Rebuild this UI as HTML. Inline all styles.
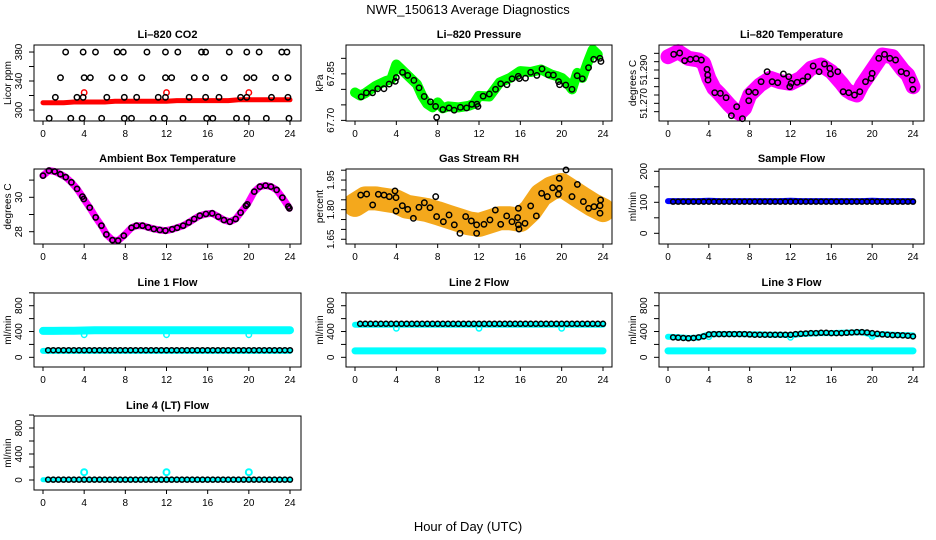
<!DOCTYPE html>
<html><head><meta charset="utf-8"><style>
html,body{margin:0;padding:0;background:#fff;}
svg{display:block;font-family:"Liberation Sans",Arial,sans-serif;}
</style></head><body>
<svg id="chart" width="936" height="540" viewBox="0 0 936 540" xmlns="http://www.w3.org/2000/svg">
<text x="468" y="14" text-anchor="middle" font-size="13">NWR_150613  Average Diagnostics</text>
<text x="468" y="531" text-anchor="middle" font-size="13">Hour of Day (UTC)</text>
</svg>
<script>
// ---------- data ----------
const xTicks = [0,4,8,12,16,20,24];
const H48 = [0.5,1,1.5,2,2.5,3,3.5,4,4.5,5,5.5,6,6.5,7,7.5,8,8.5,9,9.5,10,10.5,11,11.5,12,12.5,13,13.5,14,14.5,15,15.5,16,16.5,17,17.5,18,18.5,19,19.5,20,20.5,21,21.5,22,22.5,23,23.5,24];
const H25 = [0,1,2,3,4,5,6,7,8,9,10,11,12,13,14,15,16,17,18,19,20,21,22,23,24];
const outlierHours = [4,12,20];

// CO2
const co2BandVals = [310,310,310,311,311,311,311,312,312,312,312,312,312,313,313,313,313,313,313,314,314,314,314,314,314];
const co2RedOutliers = [324,324,324];
const co2BlackHours = [2.2,3.9,5.1,7.2,7.8,10.1,11.9,13.1,15.4,15.8,18.1,19.8,21.0,23.2,23.7,
 1.7,4.0,4.6,6.7,7.9,9.6,11.9,12.5,14.7,15.8,17.6,19.8,20.5,22.6,23.8,
 1.2,3.3,3.9,6.2,7.9,9.1,11.2,11.9,14.2,15.8,17.1,19.2,19.8,22.2,23.8,
 0.6,2.7,3.8,5.7,7.9,8.6,10.7,11.8,13.6,15.9,16.5,18.8,19.8,21.7,23.9];
const co2BlackVals = [380,380,380,380,380,380,380,380,380,380,380,380,380,380,380,
 344.6,344.6,344.6,344.6,344.6,344.6,344.6,344.6,344.6,344.6,344.6,344.6,344.6,344.6,344.6,
 317.5,317.5,317.5,317.5,317.5,317.5,317.5,317.5,317.5,317.5,317.5,317.5,317.5,317.5,317.5,
 288.5,288.5,288.5,288.5,288.5,288.5,288.5,288.5,288.5,288.5,288.5,288.5,288.5,288.5,288.5];

// Pressure
const presHours = [0,0.5,1,2,3,3.5,4,4.5,5,6,6.5,7,7.5,8,8.5,9,10,11,11.5,12,13,14,15,16,17,18,19,19.5,20,20.5,21,21.5,22,22.5,23,23.5];
const presBandVals = [67.790,67.780,67.788,67.811,67.827,67.832,67.880,67.864,67.848,67.816,67.779,67.753,67.742,67.758,67.739,67.745,67.742,67.747,67.753,67.779,67.777,67.822,67.837,67.859,67.856,67.864,67.848,67.843,67.837,67.822,67.800,67.853,67.837,67.885,67.928,67.912];
const presBlackHours = [0.6,1.1,1.7,2.2,2.8,3.3,3.9,4.0,4.6,5.1,5.7,6.2,6.7,7.3,7.8,7.9,8.5,9.1,9.6,10.2,10.8,11.3,11.8,11.9,12.4,13.0,13.6,14.1,14.7,15.2,15.8,15.9,16.5,17.0,17.6,18.1,18.7,19.2,19.7,19.8,20.4,21.0,21.5,22.0,22.6,23.1,23.7,23.8];
const presBlackVals = [67.776,67.789,67.789,67.802,67.802,67.817,67.826,67.838,67.855,67.845,67.829,67.805,67.777,67.760,67.745,67.710,67.735,67.740,67.733,67.742,67.740,67.752,67.752,67.745,67.778,67.785,67.800,67.818,67.815,67.834,67.842,67.835,67.836,67.855,67.845,67.866,67.847,67.846,67.825,67.815,67.814,67.800,67.844,67.834,67.870,67.897,67.900,67.890];

// Temperature
const tempHours = [0,1,2,3,3.5,4,4.5,5,6,6.5,7,7.5,8,9,10,11,12,13,14,15,16,17,17.5,18,18.5,19,20,21,22,23,23.5,24];
const tempBandVals = [51.298,51.301,51.297,51.296,51.294,51.285,51.279,51.276,51.269,51.266,51.264,51.267,51.275,51.281,51.285,51.283,51.282,51.285,51.291,51.293,51.289,51.282,51.278,51.276,51.275,51.281,51.290,51.299,51.298,51.290,51.287,51.280];
const tempBlackHours = [0.56,1.14,1.63,2.19,2.75,3.27,3.82,3.89,3.92,4.58,5.13,5.69,6.21,6.73,7.29,7.91,7.91,8.56,9.12,9.71,10.2,10.75,11.31,11.83,11.93,12.06,12.65,13.2,13.69,14.22,14.8,15.33,15.85,15.92,16.63,17.16,17.71,18.27,18.79,19.35,19.9,20.0,20.65,21.21,21.73,22.29,22.84,23.37,23.92,23.99];
const tempBlackVals = [51.2994,51.3002,51.2956,51.2964,51.2968,51.2960,51.2904,51.2870,51.2840,51.2764,51.2760,51.2734,51.2626,51.2680,51.2608,51.2770,51.2716,51.2766,51.2830,51.2890,51.2830,51.2824,51.2876,51.2860,51.2800,51.2820,51.2826,51.2834,51.2860,51.2924,51.2890,51.2936,51.2910,51.2876,51.2890,51.2770,51.2764,51.2750,51.2770,51.2830,51.2850,51.2880,51.2970,51.2994,51.2970,51.2960,51.2890,51.2880,51.2840,51.2784];

// Ambient box temperature
const ambHours = [0,0.58,1.14,1.69,2.21,2.76,3.31,3.83,3.96,4.54,5.12,5.68,6.16,6.75,7.3,7.85,8.6,9.08,9.67,10.22,10.77,11.35,11.9,12.55,13.04,13.62,14.17,14.69,15.24,15.83,16.44,17.03,17.58,18.16,18.72,19.2,19.72,19.85,20.53,21.08,21.63,22.15,22.7,23.26,23.84,23.94];
const ambVals = [31.26,31.55,31.50,31.34,31.17,30.87,30.49,30.04,29.90,29.40,28.83,28.35,27.84,27.51,27.48,27.77,28.23,28.35,28.35,28.25,28.16,28.10,28.06,28.14,28.23,28.35,28.54,28.74,28.93,29.03,29.07,28.87,28.68,28.58,28.74,29.11,29.51,29.59,30.33,30.62,30.68,30.62,30.43,29.98,29.46,29.36];

// Gas stream RH
const rhBandVals = [1.824,1.857,1.857,1.849,1.841,1.815,1.807,1.798,1.782,1.765,1.748,1.731,1.723,1.739,1.756,1.756,1.748,1.798,1.874,1.908,1.925,1.891,1.857,1.824,1.798];
const rhBlackHours = [0.55,1.13,1.71,2.26,2.81,3.32,3.87,3.97,3.97,4.58,5.1,5.65,6.19,6.71,7.26,7.81,7.9,8.55,9.1,9.61,10.16,10.71,11.26,11.77,11.77,12.48,13.06,13.58,14.1,14.68,15.19,15.74,15.81,15.81,15.87,16.45,17.0,17.55,18.06,18.61,19.13,19.68,19.77,19.77,20.42,21.0,21.52,22.1,22.61,23.13,23.71,23.71,23.77];
const rhBlackVals = [1.874,1.879,1.824,1.878,1.874,1.866,1.895,1.861,1.793,1.820,1.802,1.756,1.812,1.835,1.810,1.866,1.765,1.739,1.773,1.723,1.680,1.765,1.743,1.680,1.723,1.726,1.748,1.798,1.726,1.768,1.739,1.760,1.807,1.723,1.702,1.731,1.819,1.768,1.883,1.866,1.911,1.878,1.908,1.959,2.001,1.866,1.928,1.841,1.807,1.815,1.820,1.782,1.849];

// Sample flow
const sampleBandVals = [104,104,104,104,105,104,104,104,104,104,104,104,105,104,104,104,104,104,104,104,105,104,104,104,104];
const sampleBlackVals = [102,102,102,102,102,102,102,102,102,102,102,102,102,102,102,102,102,102,102,102,102,102,102,102,102,102,102,102,102,102,102,102,102,102,102,102,102,102,102,102,102,102,102,102,102,102,102,102];

// Line flows
const line1CyanHigh = [410,410,412,412,415,420,420,420,420,420,420,420,420,420,420,420,420,420,420,420,420,420,420,420,420];
const line1CyanLow = [100,100,100,100,100,100,100,100,100,100,100,100,100,100,100,100,100,100,100,100,100,100,100,100,100];
const line1CyanOut = [350,350,350];
const line1Black = [110,110,110,110,110,110,110,110,110,110,110,110,110,110,110,110,110,110,110,110,110,110,110,110,110,110,110,110,110,110,110,110,110,110,110,110,110,110,110,110,110,110,110,110,110,110,110,110];

const line2CyanHigh = [505,505,505,505,505,505,505,505,505,505,505,505,505,505,505,505,505,505,505,505,505,505,505,505,505];
const line2CyanLow = [100,100,100,100,100,100,100,100,100,100,100,100,100,100,100,100,100,100,100,100,100,100,100,100,100];
const line2CyanOut = [450,450,450];
const line2Black = [520,520,520,520,520,520,520,520,520,520,520,520,520,520,520,520,520,520,520,520,520,520,520,520,520,520,520,520,520,520,520,520,520,520,520,520,520,520,520,520,520,520,520,520,520,520,520,520];

const line3CyanHigh = [320,310,300,305,355,360,360,360,355,355,350,350,345,360,370,375,375,380,385,390,350,360,350,345,340];
const line3CyanLow = [100,100,100,100,100,100,100,100,100,100,100,100,100,100,100,100,100,100,100,100,100,100,100,100,100];
const line3CyanOut = [320,310,325];
const line3Black = [310,305,300,295,300,310,325,355,360,360,360,360,360,360,360,355,350,350,350,350,350,350,350,350,360,365,370,375,375,380,380,375,375,375,380,385,390,390,385,375,365,355,350,345,345,340,335,325];

const line4Cyan = [5,5,5,5,5,5,5,5,5,5,5,5,5,5,5,5,5,5,5,5,5,5,5,5,5];
const line4CyanOut = [120,120,120];
const line4Black = [5,5,5,5,5,5,5,5,5,5,5,5,5,5,5,5,5,5,5,5,5,5,5,5,5,5,5,5,5,5,5,5,5,5,5,5,5,5,5,5,5,5,5,5,5,5,5,5];

// ---------- drawing ----------
const NS = 'http://www.w3.org/2000/svg';
const svg = document.getElementById('chart');
const COLS = [{L:34,R:301,x0:43,x24:290},{L:346,R:612,x0:355,x24:603},{L:659,R:924,x0:668,x24:913}];
const ROWS = [{T:45,B:121},{T:169,B:244},{T:293,B:367},{T:416,B:490}];

function el(tag, attrs, parent) {
  const e = document.createElementNS(NS, tag);
  for (const k in attrs) e.setAttribute(k, attrs[k]);
  (parent || svg).appendChild(e);
  return e;
}

function panel(c, r, slug, title, ylab, ylim, yticks, ylabels) {
  const C = COLS[c], Rw = ROWS[r];
  const g = el('g', {});
  
  
  const xs = h => C.x0 + (C.x24 - C.x0) * h / 24;
  const ys = v => Rw.B - (v - ylim[0]) / (ylim[1] - ylim[0]) * (Rw.B - Rw.T);
  const t = el('text', {x:(C.L + C.R) / 2, y:Rw.T - 7, 'text-anchor':'middle', 'font-size':11, 'font-weight':'bold'}, g);
  t.textContent = title;
  
  
  const yl = el('text', {transform:'translate(' + (C.L - 23) + ',' + ((Rw.T + Rw.B) / 2) + ') rotate(-90)', 'text-anchor':'middle', 'font-size':10}, g);
  yl.textContent = ylab;
  
  
  const xa = el('g', {}, g);
  
  
  xTicks.forEach(h => {
    el('line', {x1:xs(h), x2:xs(h), y1:Rw.B, y2:Rw.B + 4, stroke:'#000', 'stroke-width':1}, xa);
    const tl = el('text', {x:xs(h), y:Rw.B + 16, 'text-anchor':'middle', 'font-size':10}, xa);
    tl.textContent = h;
    
    
  });
  const ya = el('g', {}, g);
  
  
  yticks.forEach(v => {
    const y = ys(v);
    el('line', {x1:C.L - 5, x2:C.L, y1:y, y2:y, stroke:'#000', 'stroke-width':1}, ya);
  });
  ylabels.forEach(lb => {
    const y = ys(parseFloat(lb));
    const tl = el('text', {transform:'translate(' + (C.L - 12) + ',' + y + ') rotate(-90)', 'text-anchor':'middle', 'font-size':10}, ya);
    tl.textContent = lb;
    
    
  });
  const clipId = 'clip-' + slug;
  const cp = el('clipPath', {id:clipId}, g);
  el('rect', {x:C.L, y:Rw.T - 4, width:C.R - C.L, height:Rw.B - Rw.T + 8}, cp);
  const plot = el('g', {'clip-path':'url(#' + clipId + ')'}, g);
  
  
  const box = el('rect', {x:C.L, y:Rw.T, width:C.R - C.L, height:Rw.B - Rw.T, fill:'none', stroke:'#000', 'stroke-width':1}, g);
  
  
  return {plot, xs, ys};
}

function band(p, name, hours, vals, color, w) {
  const pts = hours.map((h, i) => p.xs(h).toFixed(1) + ',' + p.ys(vals[i]).toFixed(1)).join(' ');
  const pl = el('polyline', {points:pts, fill:'none', stroke:color, 'stroke-width':w, 'stroke-linejoin':'round', 'stroke-linecap':'round'}, p.plot);
  
  
}

function circles(p, name, hours, vals, color, r, sw) {
  const g = el('g', {}, p.plot);
  
  
  hours.forEach((h, i) => {
    const c = el('circle', {cx:p.xs(h), cy:p.ys(vals[i]), r:r || 2.7, fill:'none', stroke:color, 'stroke-width':sw || 1.5}, g);
    
    
  });
}

// CO2
let p = panel(0, 0, 'co2', 'Li\u2013820 CO2', 'Licor ppm', [284.8, 389.7], [300,320,340,360,380], ['300','340','380']);
band(p, 'co2-red-band', H25, co2BandVals, '#ff0000', 5);
circles(p, 'co2-red-outliers', outlierHours, co2RedOutliers, '#ff0000');
circles(p, 'co2-black-series', co2BlackHours, co2BlackVals, '#000');

// Pressure
p = panel(1, 0, 'pressure', 'Li\u2013820 Pressure', 'kPa', [67.698, 67.943], [67.70,67.75,67.80,67.85,67.90], ['67.70','67.85']);
band(p, 'pressure-green-band', presHours, presBandVals, '#00ff00', 10);
circles(p, 'pressure-black-series', presBlackHours, presBlackVals, '#000');

// Temperature
p = panel(2, 0, 'temperature', 'Li\u2013820 Temperature', 'degrees C', [51.2594, 51.305], [51.265,51.270,51.275,51.280,51.285,51.290,51.295,51.300], ['51.270','51.290']);
band(p, 'temperature-magenta-band', tempHours, tempBandVals, '#ff00ff', 15);
circles(p, 'temperature-black-series', tempBlackHours, tempBlackVals, '#000');

// Ambient
p = panel(0, 1, 'ambient', 'Ambient Box Temperature', 'degrees C', [27.285, 31.645], [28,29,30,31], ['28','30']);
band(p, 'ambient-magenta-band', ambHours, ambVals, '#ff00ff', 7);
circles(p, 'ambient-black-series', ambHours, ambVals, '#000', 2.6, 1.6);

// Gas RH
p = panel(1, 1, 'gas-rh', 'Gas Stream RH', 'percent', [1.626, 2.006], [1.65,1.70,1.75,1.80,1.85,1.90,1.95,2.00], ['1.65','1.80','1.95']);
band(p, 'gas-rh-orange-band', H25, rhBandVals, '#f4a81c', 24);
circles(p, 'gas-rh-black-series', rhBlackHours, rhBlackVals, '#000');

// Sample flow
p = panel(2, 1, 'sample-flow', 'Sample Flow', 'ml/min', [-34.5, 207.4], [0,50,100,150,200], ['0','100','200']);
band(p, 'sample-flow-blue-band', H25, sampleBandVals, '#0000ff', 6);
circles(p, 'sample-flow-black-series', H48, sampleBlackVals, '#000', 2.5, 1.5);

// Line 1
p = panel(0, 2, 'line1-flow', 'Line 1 Flow', 'ml/min', [-150, 997], [0,200,400,600,800,1000], ['0','400','800']);
band(p, 'line1-cyan-high', H25, line1CyanHigh, '#00ffff', 8);
band(p, 'line1-cyan-low', H25, line1CyanLow, '#00ffff', 6);
circles(p, 'line1-cyan-outliers', outlierHours, line1CyanOut, '#00ffff');
circles(p, 'line1-black-series', H48, line1Black, '#000', 2.5, 1.5);

// Line 2
p = panel(1, 2, 'line2-flow', 'Line 2 Flow', 'ml/min', [-150, 997], [0,200,400,600,800,1000], ['0','400','800']);
band(p, 'line2-cyan-high', H25, line2CyanHigh, '#00ffff', 6);
band(p, 'line2-cyan-low', H25, line2CyanLow, '#00ffff', 7);
circles(p, 'line2-cyan-outliers', outlierHours, line2CyanOut, '#00ffff');
circles(p, 'line2-black-series', H48, line2Black, '#000', 2.5, 1.5);

// Line 3
p = panel(2, 2, 'line3-flow', 'Line 3 Flow', 'ml/min', [-150, 997], [0,200,400,600,800,1000], ['0','400','800']);
band(p, 'line3-cyan-high', H25, line3CyanHigh, '#00ffff', 6);
band(p, 'line3-cyan-low', H25, line3CyanLow, '#00ffff', 7);
circles(p, 'line3-cyan-outliers', outlierHours, line3CyanOut, '#00ffff');
circles(p, 'line3-black-series', H48, line3Black, '#000', 2.5, 1.5);

// Line 4
p = panel(0, 3, 'line4-flow', 'Line 4 (LT) Flow', 'ml/min', [-154, 985], [0,200,400,600,800,1000], ['0','400','800']);
band(p, 'line4-cyan-band', H25, line4Cyan, '#00ffff', 5);
circles(p, 'line4-cyan-outliers', outlierHours, line4CyanOut, '#00ffff', 3, 2);
circles(p, 'line4-black-series', H48, line4Black, '#000', 2.5, 1.5);
</script>
</body></html>
